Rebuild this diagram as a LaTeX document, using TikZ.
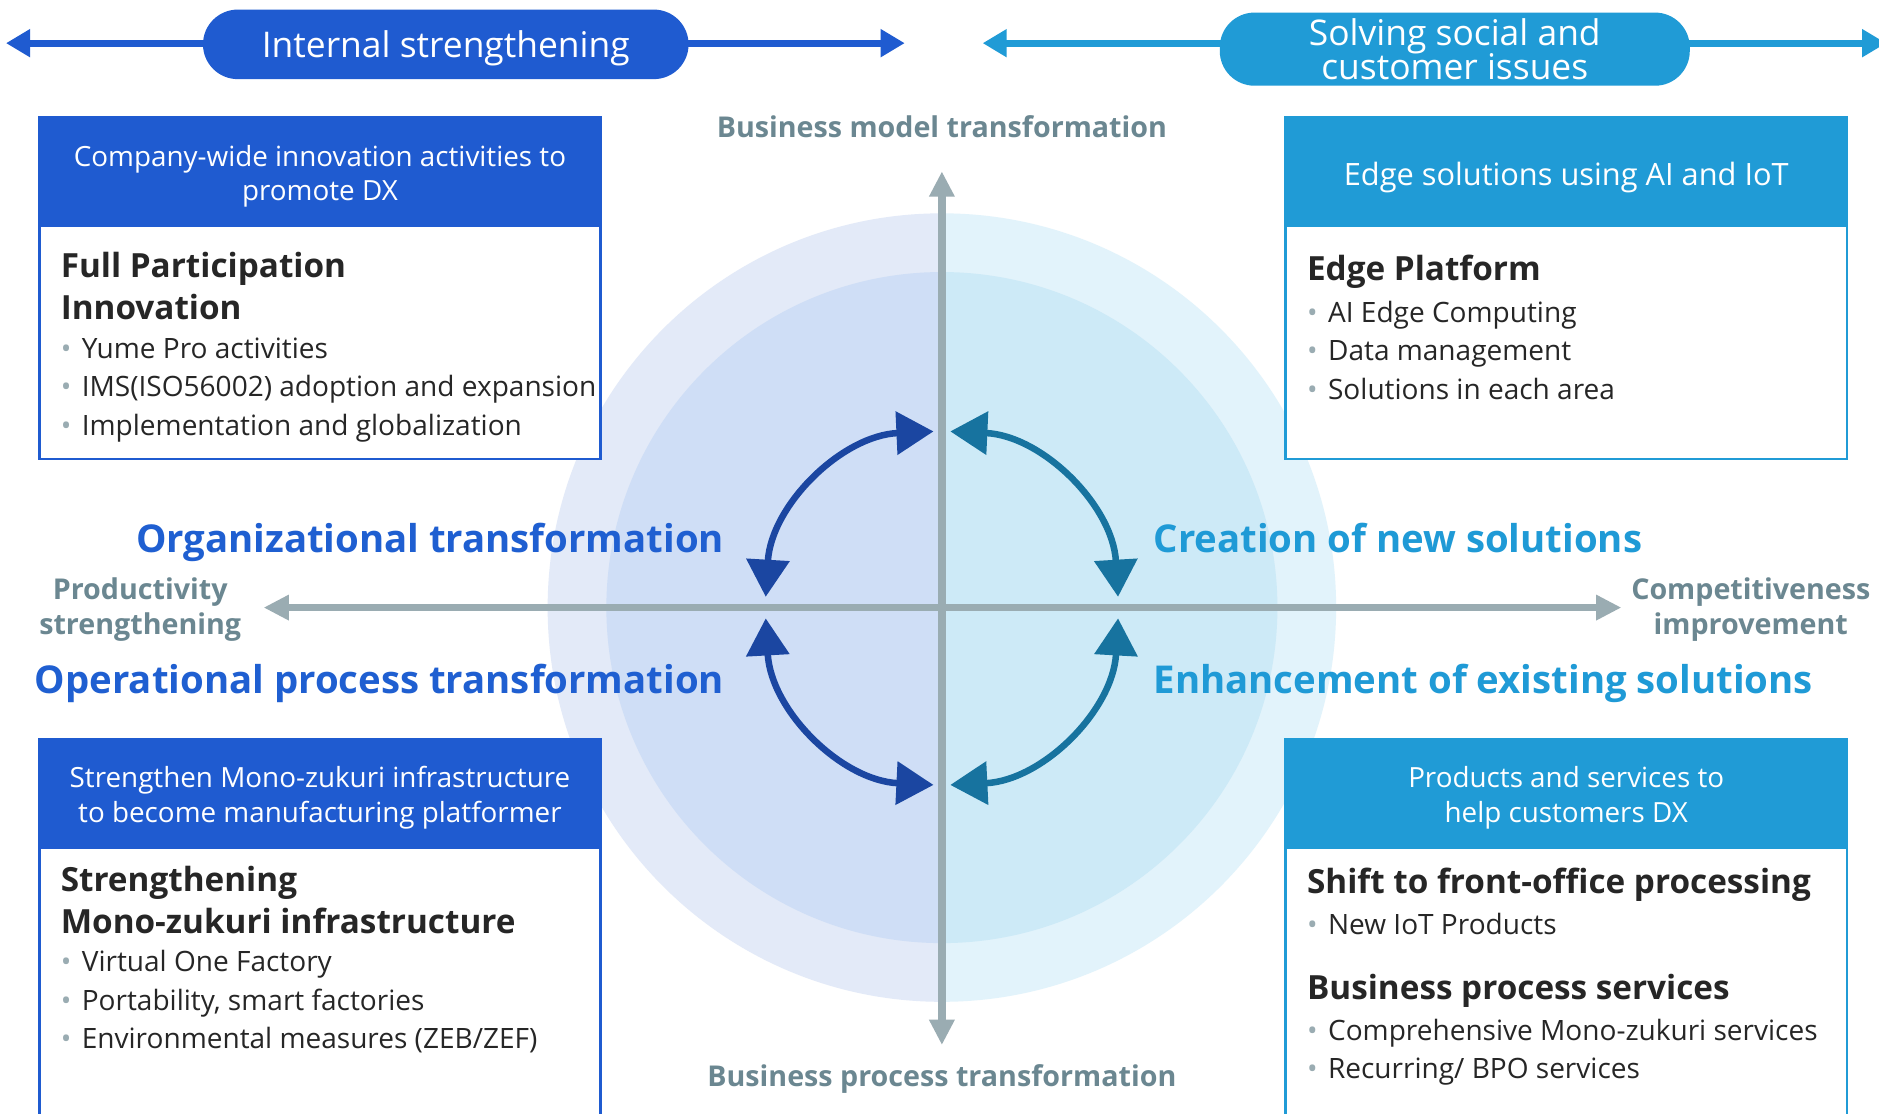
\documentclass[tikz,border=0pt]{standalone}
\usepackage{fontspec}
\setmainfont{Open Sans}
\usetikzlibrary{arrows.meta,positioning}
\definecolor{deepblue}{HTML}{1F5BD0}
\definecolor{skyblue}{HTML}{209BD6}
\definecolor{navyarc}{HTML}{1B46A1}
\definecolor{tealarc}{HTML}{17739F}
\definecolor{axisgray}{HTML}{9AACB2}
\definecolor{labelgray}{HTML}{6B8791}
\definecolor{bodytext}{HTML}{262626}
\definecolor{ringL}{HTML}{E3EAF8}
\definecolor{coreL}{HTML}{CFDEF6}
\definecolor{ringR}{HTML}{E2F3FB}
\definecolor{coreR}{HTML}{CDEAF7}
\definecolor{orgblue}{HTML}{1F5FD1}
\definecolor{solcyan}{HTML}{1F9AD6}
\newcommand{\bul}{\makebox[5pt][l]{\textcolor{axisgray}{\textbullet}}}
\tikzset{ >=Triangle,
  pill/.style={ rectangle, rounded corners=0.29cm, text=white, inner sep=0pt,
    font=\fontsize{8.4}{7.7}\selectfont, align=center},
  pillL/.style={ pill, fill=deepblue, minimum width=4.05cm, minimum height=0.58cm, text depth=0pt},
  pillR/.style={ pill, fill=skyblue, minimum width=3.92cm, minimum height=0.61cm},
  banner/.style={ <->, line width=1.7pt, >={Triangle[length=5.7pt,width=6.3pt]}},
  hdr/.style={ rectangle, minimum width=4.68cm, minimum height=0.9cm, inner sep=0pt,
    outer sep=0pt, line width=0.6pt},
  hdrL/.style={ hdr, fill=deepblue, draw=deepblue},
  hdrR/.style={ hdr, fill=skyblue, draw=skyblue},
  hdrtxt/.style={ inner sep=0pt, text=white, align=center, font=\fontsize{6.6}{8.25}\selectfont},
  body/.style={ rectangle, minimum width=4.68cm, fill=white, outer sep=0pt, line width=0.6pt},
  ttl/.style={ anchor=base west, inner sep=0pt, align=left, text=bodytext,
    font=\fontsize{7.9}{10}\selectfont\bfseries},
  itm/.style={ anchor=base west, inner sep=0pt, align=left, text=bodytext,
    font=\fontsize{6.65}{9.1}\selectfont},
  axis/.style={ <->, draw=axisgray, line width=1.75pt, >={Triangle[length=6pt,width=5.7pt]}},
  axlbl/.style={ inner sep=0pt, text=labelgray, align=center,
    font=\fontsize{6.8}{8.25}\selectfont\bfseries},
  cyc/.style={ <->, line width=1.55pt, >={Triangle[length=8.8pt,width=10pt]}},
  big/.style={ inner sep=0pt, font=\fontsize{9.1}{10}\selectfont\bfseries}}

\begin{document}
\begin{tikzpicture}[x=0.01cm, y=-0.01cm]
    \useasboundingbox[fill=white] (0,0) rectangle (1568,929);
    % circles behind everything
    \coordinate (ctr) at (786,507);
    \begin{scope}
      \clip (0,0) rectangle (786,929);
      \fill[ringL] (ctr) circle[radius=329];
      \fill[coreL] (ctr) circle[radius=280];
    \end{scope}
    \begin{scope}
      \clip (786,0) rectangle (1568,929);
      \fill[ringR] (ctr) circle[radius=329];
      \fill[coreR] (ctr) circle[radius=280];
    \end{scope}

    % axes
    \coordinate (ax-t) at (786,143);
    \coordinate (ax-b) at (786,872);
    \coordinate (ax-l) at (220,507);
    \coordinate (ax-r) at (1353,507);
    \draw[axis] (ax-b) -- (ax-t);
    \draw[axis] (ax-l) -- (ax-r);
    \node[axlbl, anchor=base] (bmt) at (786,114.5) {Business model transformation};
    \node[axlbl, anchor=base] (bpt) at (786,906.5) {Business process transformation};
    \node[axlbl, anchor=base] (prod) at (117,529.5) {Productivity\\strengthening};
    \node[axlbl, anchor=base] (comp) at (1461,529.5) {Competitiveness\\improvement};

    % cycle arrows
    \coordinate (lt1) at (639,498);  \coordinate (lt2) at (779,360);
    \coordinate (lb1) at (639,516);  \coordinate (lb2) at (779,655);
    \coordinate (rt1) at (793,360);  \coordinate (rt2) at (933,498);
    \coordinate (rb1) at (793,655);  \coordinate (rb2) at (933,516);
    \draw[cyc, navyarc] (lt1) to[bend left=42] (lt2);
    \draw[cyc, navyarc] (lb1) to[bend right=42] (lb2);
    \draw[cyc, tealarc] (rt1) to[bend left=42] (rt2);
    \draw[cyc, tealarc] (rb1) to[bend right=42] (rb2);

    % quadrant labels
    \node[big, orgblue, anchor=base east] (org) at (605,461) {Organizational transformation};
    \node[big, orgblue, anchor=base east] (opr) at (605,579) {Operational process transformation};
    \node[big, solcyan, anchor=base west] (cre) at (962,461) {Creation of new solutions};
    \node[big, solcyan, anchor=base west] (enh) at (962,579) {Enhancement of existing solutions};

    % top left box
    \node[hdrL] (hTL) at (267,143) {};
    \node[body, draw=deepblue, minimum height=1.95cm, below=0pt of hTL] (bTL) {};
    \node[hdrtxt] (xTL) at (267,147) {Company-wide innovation activities to\\promote DX};
    \node[ttl] (tTL) at (50,267) {Full Participation\\Innovation};
    \node[itm] (lTL) at (50,363) {\bul Yume Pro activities\\\bul IMS(ISO56002) adoption and expansion\\\bul Implementation and globalization};

    % top right box
    \node[hdrR] (hTR) at (1307,143) {};
    \node[body, draw=skyblue, minimum height=1.95cm, below=0pt of hTR] (bTR) {};
    \node[hdrtxt, font=\fontsize{7.3}{9}\selectfont] (xTR) at (1307,148) {Edge solutions using AI and IoT};
    \node[ttl] (tTR) at (1090,234) {Edge Platform};
    \node[itm] (lTR) at (1090,333) {\bul AI Edge Computing\\\bul Data management\\\bul Solutions in each area};

    % bottom left box
    \node[hdrL] (hBL) at (267,662) {};
    \node[body, draw=deepblue, minimum height=2.6cm, below=0pt of hBL] (bBL) {};
    \node[hdrtxt] (xBL) at (267,665.5) {Strengthen Mono-zukuri infrastructure\\to become manufacturing platformer};
    \node[ttl] (tBL) at (50,779) {Strengthening\\Mono-zukuri infrastructure};
    \node[itm] (lBL) at (50,875) {\bul Virtual One Factory\\\bul Portability, smart factories\\\bul Environmental measures (ZEB/ZEF)};

    % bottom right box
    \node[hdrR] (hBR) at (1307,662) {};
    \node[body, draw=skyblue, minimum height=2.6cm, below=0pt of hBR] (bBR) {};
    \node[hdrtxt] (xBR) at (1307,665.5) {Products and services to\\help customers DX};
    \node[ttl] (tBR1) at (1090,746) {Shift to front-office processing};
    \node[itm] (lBR1) at (1090,780) {\bul New IoT Products};
    \node[ttl] (tBR2) at (1090,834) {Business process services};
    \node[itm] (lBR2) at (1090,900) {\bul Comprehensive Mono-zukuri services\\\bul Recurring/ BPO services};

    % banners
    \coordinate (bl-a) at (5,36);    \coordinate (bl-b) at (755,36);
    \coordinate (br-a) at (820,36);  \coordinate (br-b) at (1574,36);
    \draw[banner, deepblue] (bl-a) -- (bl-b);
    \draw[banner, skyblue] (br-a) -- (br-b);
    \node[pillL] (inner) at (372,37) {Internal strengthening};
    \node[pillR] (social) at (1214,41) {Solving social and\\[-1.3pt]customer issues};
\end{tikzpicture}
\end{document}
